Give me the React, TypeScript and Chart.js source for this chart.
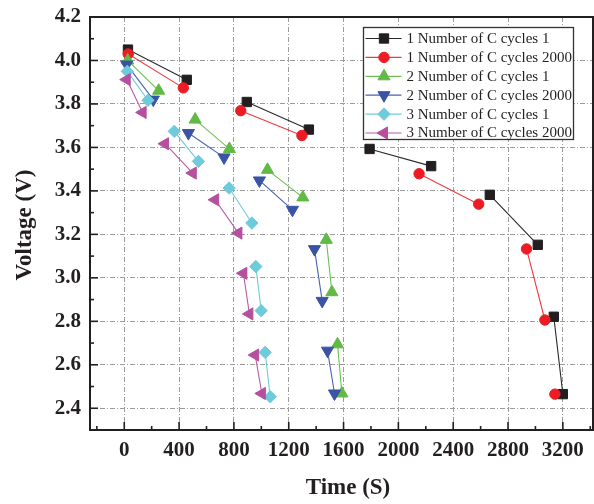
import { useEffect, useRef } from 'react';
import { Chart, registerables } from 'chart.js';
import { drawPoint } from 'chart.js/helpers';

Chart.register(...registerables);

// Axis ranges and tick values
const X_MIN = -250;
const X_MAX = 3420;
const Y_MIN = 2.3;
const Y_MAX = 4.2;
const X_TICKS = [0, 400, 800, 1200, 1600, 2000, 2400, 2800, 3200];
const X_MINOR = [-200, 200, 600, 1000, 1400, 1800, 2200, 2600, 3000, 3400];
const Y_TICKS = [2.4, 2.6, 2.8, 3.0, 3.2, 3.4, 3.6, 3.8, 4.0, 4.2];
const Y_MINOR = [2.5, 2.7, 2.9, 3.1, 3.3, 3.5, 3.7, 3.9, 4.1];

const X_TITLE = 'Time (S)';
const Y_TITLE = 'Voltage (V)';

// Series 1 — cycle 1 / cycle 2000
const s1c1Time = [27, 456, 894, 1347, 1790, 2239, 2667, 3017, 3134, 3200];
const s1c1Volt = [4.05, 3.911, 3.809, 3.682, 3.593, 3.514, 3.382, 3.152, 2.821, 2.465];
const s1c1Runs = [2, 2, 2, 2, 2];

const s1c2000Time = [29, 431, 850, 1296, 2151, 2586, 2935, 3069, 3142];
const s1c2000Volt = [4.03, 3.874, 3.769, 3.655, 3.479, 3.339, 3.133, 2.806, 2.465];
const s1c2000Runs = [2, 2, 2, 2, 1];

// Series 2 — cycle 1 / cycle 2000
const s2c1Time = [25, 251, 517, 767, 1045, 1303, 1474, 1515, 1556, 1588];
const s2c1Volt = [4.0, 3.861, 3.728, 3.593, 3.497, 3.37, 3.175, 2.934, 2.694, 2.468];
const s2c1Runs = [2, 2, 2, 2, 2];

const s2c2000Time = [18, 212, 468, 728, 986, 1227, 1388, 1444, 1483, 1534];
const s2c2000Volt = [3.981, 3.82, 3.666, 3.554, 3.448, 3.313, 3.132, 2.894, 2.665, 2.468];
const s2c2000Runs = [2, 2, 2, 2, 2];

// Series 3 — cycle 1 / cycle 2000
const s3c1Time = [22, 173, 365, 541, 765, 931, 960, 999, 1028, 1065];
const s3c1Volt = [3.95, 3.817, 3.674, 3.536, 3.413, 3.252, 3.052, 2.849, 2.657, 2.453];
const s3c1Runs = [2, 2, 2, 2, 2];

const s3c2000Time = [18, 134, 297, 500, 663, 833, 869, 913, 955, 1004];
const s3c2000Volt = [3.912, 3.761, 3.617, 3.482, 3.359, 3.206, 3.021, 2.834, 2.645, 2.468];
const s3c2000Runs = [2, 2, 2, 2, 2];

const SERIES_LABELS = [
  '1 Number of C cycles 1',
  '1 Number of C cycles 2000',
  '2 Number of C cycles 1',
  '2 Number of C cycles 2000',
  '3 Number of C cycles 1',
  '3 Number of C cycles 2000',
];

const AXIS_COLOR = '#231f20';
const GRID_COLOR = '#9c9c9c';
const SERIF = '"Liberation Serif", "Times New Roman", serif';

type Style = { color: string; line: string; shape: string; radius: number; rotation: number };

const STYLES: Style[] = [
  { color: '#231f20', line: '#2a2a2a', shape: 'rect', radius: 6.6, rotation: 0 },
  { color: '#ed1c24', line: '#f03a40', shape: 'circle', radius: 5.2, rotation: 0 },
  { color: '#62b946', line: '#6cc052', shape: 'triangle', radius: 7, rotation: 0 },
  { color: '#3a53a4', line: '#4a62ad', shape: 'triangle', radius: 7, rotation: 180 },
  { color: '#6dcbdc', line: '#6dcbdc', shape: 'rectRot', radius: 6.2, rotation: 0 },
  { color: '#b5509f', line: '#b95aa5', shape: 'triangle', radius: 7, rotation: -90 },
];

// Join the measured points into connected runs, with a gap between runs
function toRuns(times: number[], volts: number[], runs: number[]) {
  const out: { x: number | null; y: number | null }[] = [];
  let k = 0;
  runs.forEach((n, r) => {
    if (r > 0) out.push({ x: null, y: null });
    for (let j = 0; j < n; j++, k++) out.push({ x: times[k], y: volts[k] });
  });
  return out;
}

const SERIES = [
  toRuns(s1c1Time, s1c1Volt, s1c1Runs),
  toRuns(s1c2000Time, s1c2000Volt, s1c2000Runs),
  toRuns(s2c1Time, s2c1Volt, s2c1Runs),
  toRuns(s2c2000Time, s2c2000Volt, s2c2000Runs),
  toRuns(s3c1Time, s3c1Volt, s3c1Runs),
  toRuns(s3c2000Time, s3c2000Volt, s3c2000Runs),
];

// Frame with inward ticks, axis titles and the boxed legend
const decorPlugin = {
  id: 'decor',
  afterDraw(chart: any) {
    const { ctx, chartArea: a, scales } = chart;
    const xs = scales.x;
    const ys = scales.y;
    ctx.save();

    ctx.strokeStyle = AXIS_COLOR;
    ctx.lineWidth = 1.6;
    const tick = (x1: number, y1: number, x2: number, y2: number) => {
      ctx.beginPath();
      ctx.moveTo(x1, y1);
      ctx.lineTo(x2, y2);
      ctx.stroke();
    };
    X_TICKS.forEach((v) => { const p = xs.getPixelForValue(v); tick(p, a.bottom, p, a.bottom - 8); });
    X_MINOR.forEach((v) => { const p = xs.getPixelForValue(v); tick(p, a.bottom, p, a.bottom - 4); });
    Y_TICKS.forEach((v) => { const p = ys.getPixelForValue(v); tick(a.left, p, a.left + 8, p); });
    Y_MINOR.forEach((v) => { const p = ys.getPixelForValue(v); tick(a.left, p, a.left + 4, p); });

    ctx.lineWidth = 2;
    ctx.strokeRect(a.left, a.top, a.right - a.left, a.bottom - a.top);

    // axis titles
    ctx.fillStyle = AXIS_COLOR;
    ctx.font = `bold 23px ${SERIF}`;
    ctx.textAlign = 'center';
    ctx.textBaseline = 'middle';
    ctx.fillText(X_TITLE, 348, 488);
    ctx.save();
    ctx.translate(25, 225);
    ctx.rotate(-Math.PI / 2);
    ctx.fillText(Y_TITLE, 0, 0);
    ctx.restore();

    // legend
    const lx = 363.5;
    const ly = 27.5;
    ctx.fillStyle = '#ffffff';
    ctx.fillRect(lx, ly, 210, 112);
    ctx.strokeStyle = '#333333';
    ctx.lineWidth = 1.3;
    ctx.strokeRect(lx, ly, 210, 112);
    ctx.font = `15px ${SERIF}`;
    ctx.textAlign = 'left';
    ctx.textBaseline = 'middle';
    SERIES_LABELS.forEach((label, i) => {
      const st = STYLES[i];
      const cy = ly + 11 + i * 18.9;
      ctx.strokeStyle = st.line;
      ctx.lineWidth = 1.2;
      ctx.beginPath();
      ctx.moveTo(lx + 2, cy);
      ctx.lineTo(lx + 38, cy);
      ctx.stroke();
      ctx.fillStyle = st.color;
      ctx.strokeStyle = st.color;
      ctx.lineWidth = 1;
      drawPoint(ctx, { pointStyle: st.shape, radius: st.radius, rotation: st.rotation, borderWidth: 1 }, lx + 20.5, cy);
      ctx.fillStyle = AXIS_COLOR;
      ctx.fillText(label, lx + 43, cy + 0.5);
    });

    ctx.restore();
  },
};

const noScalePadding = (scale: any) => {
  scale.paddingLeft = 0;
  scale.paddingRight = 0;
  scale.paddingTop = 0;
  scale.paddingBottom = 0;
};

export default function App() {
  const canvasRef = useRef<HTMLCanvasElement | null>(null);

  useEffect(() => {
    const canvas = canvasRef.current;
    if (!canvas) return;

    const chart = new Chart(canvas, {
      type: 'scatter',
      data: {
        datasets: SERIES.map((data, i) => ({
          label: SERIES_LABELS[i],
          data,
          showLine: true,
          spanGaps: false,
          order: SERIES.length - i,
          borderColor: STYLES[i].line,
          borderWidth: 1.1,
          backgroundColor: STYLES[i].color,
          pointBackgroundColor: STYLES[i].color,
          pointBorderColor: STYLES[i].color,
          pointBorderWidth: 1,
          pointStyle: STYLES[i].shape,
          pointRadius: STYLES[i].radius,
          pointRotation: STYLES[i].rotation,
          pointHoverRadius: STYLES[i].radius,
        })),
      },
      options: {
        responsive: false,
        animation: false,
        layout: { autoPadding: false, padding: { top: 17, right: 1, left: 0, bottom: 0 } },
        plugins: {
          legend: { display: false },
          tooltip: { enabled: false },
          title: { display: false },
        },
        scales: {
          x: {
            type: 'linear',
            min: X_MIN,
            max: X_MAX,
            afterBuildTicks: (scale: any) => {
              scale.ticks = X_TICKS.map((value) => ({ value }));
            },
            afterFit: (scale: any) => {
              scale.height = 74;
              noScalePadding(scale);
            },
            grid: { color: GRID_COLOR, lineWidth: 1, drawTicks: false },
            border: { display: false, dash: [5, 2, 1, 2] },
            ticks: {
              autoSkip: false,
              maxRotation: 0,
              padding: 8,
              color: AXIS_COLOR,
              font: { family: SERIF, size: 21, weight: 'bold' },
              callback: (v: any) => String(v),
            },
          },
          y: {
            type: 'linear',
            min: Y_MIN,
            max: Y_MAX,
            afterBuildTicks: (scale: any) => {
              scale.ticks = Y_TICKS.map((value) => ({ value }));
            },
            afterFit: (scale: any) => {
              scale.width = 90;
              noScalePadding(scale);
            },
            grid: { color: GRID_COLOR, lineWidth: 1, drawTicks: false },
            border: { display: false, dash: [5, 2, 1, 2] },
            ticks: {
              autoSkip: false,
              padding: 9,
              color: AXIS_COLOR,
              font: { family: SERIF, size: 21, weight: 'bold' },
              callback: (v: any) => Number(v).toFixed(1),
            },
          },
        },
      },
      plugins: [decorPlugin],
    } as any);

    return () => chart.destroy();
  }, []);

  return (
    <div style={{ position: 'absolute', left: 0, top: 0, width: 594, height: 504, background: '#ffffff' }}>
      <canvas ref={canvasRef} width={594} height={504} style={{ display: 'block' }} />
    </div>
  );
}
